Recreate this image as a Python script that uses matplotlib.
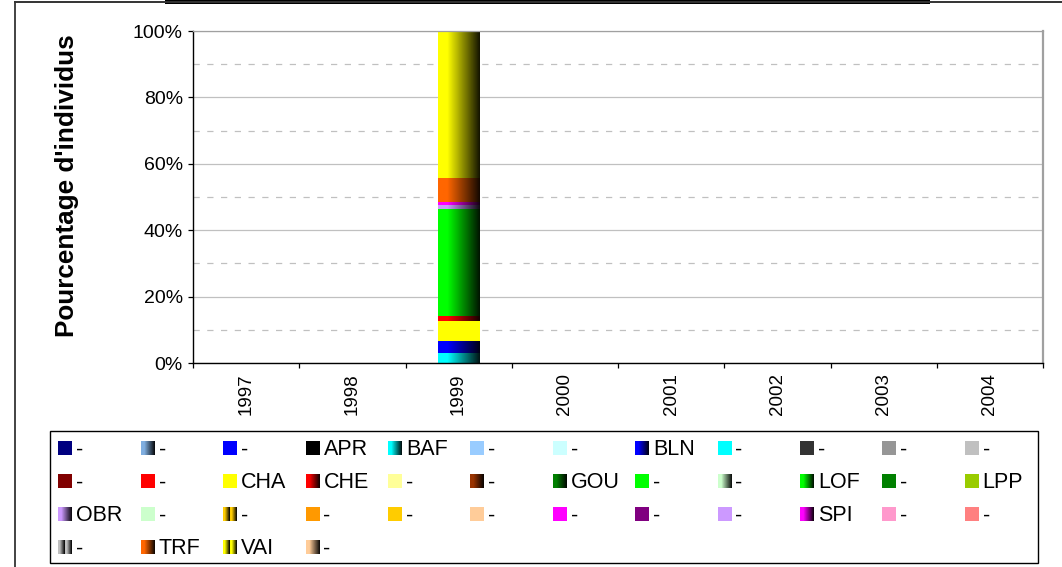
import numpy as np
import matplotlib
matplotlib.use('Agg')
import matplotlib.pyplot as plt
from matplotlib.colors import LinearSegmentedColormap, to_rgb
from matplotlib.patches import Rectangle
from matplotlib.ticker import PercentFormatter

plt.rcParams['font.family'] = ['Liberation Sans', 'DejaVu Sans']

W, H = 1062, 567

years = ['1997', '1998', '1999', '2000', '2001', '2002', '2003', '2004']

# series in Excel order (legend row by row, stack from bottom)
series_labels = ['-', '-', '-', 'APR', 'BAF', '-', '-', 'BLN', '-', '-', '-', '-',
                 '-', '-', 'CHA', 'CHE', '-', '-', 'GOU', '-', '-', 'LOF', '-', 'LPP',
                 'OBR', '-', '-', '-', '-', '-', '-', '-', '-', 'SPI', '-', '-',
                 '-', 'TRF', 'VAI', '-']
series_colors = ['#000080', '#7FAEE0', '#0000FF', '#000000', '#00FFFF', '#99CCFF', '#CCFFFF', '#0000FF', '#00FFFF', '#333333', '#969696', '#C0C0C0',
                 '#800000', '#FF0000', '#FFFF00', '#FF0000', '#FFFF99', '#993300', '#008000', '#00FF00', '#CCFFCC', '#00FF00', '#008000', '#99CC00',
                 '#CC99FF', '#CCFFCC', '#FFCC00', '#FF9900', '#FFCC00', '#FFCC99', '#FF00FF', '#800080', '#CC99FF', '#FF00FF', '#FF99CC', '#FF8080',
                 '#C0C0C0', '#FF6600', '#FFFF00', '#FFCC99']
series_fill = ['solid', 'grad', 'solid', 'solid', 'grad', 'solid', 'solid', 'grad', 'solid', 'solid', 'solid', 'solid',
               'solid', 'solid', 'solid', 'grad', 'solid', 'grad', 'grad', 'solid', 'grad', 'grad', 'solid', 'solid',
               'grad', 'solid', 'grad2', 'solid', 'solid', 'solid', 'solid', 'solid', 'solid', 'grad', 'solid', 'solid',
               'grad2', 'grad', 'grad2', 'grad']

# percentages (other years are empty)
pct_1999 = [0, 0, 0, 0, 3.0, 0, 0, 3.6, 0, 0, 0, 0,
            0, 0, 6.0, 1.5, 0, 0, 0, 0, 0, 32.3, 0, 0,
            1.2, 0, 0, 0, 0, 0, 0, 0, 0, 0.9, 0, 0,
            0, 7.3, 44.2, 0]

values = np.zeros((len(series_labels), len(years)))
values[:, years.index('1999')] = pct_1999
totals = values.sum(axis=0)
shares = np.divide(values, totals, out=np.zeros_like(values), where=totals > 0)


def ramp_cmap(color):
    c = np.array(to_rgb(color))
    return LinearSegmentedColormap.from_list('r', [(0, c), (0.22, c), (1, c * 0.08)])


fig = plt.figure(figsize=(W / 100, H / 100), dpi=100)

# overlay in pixel coordinates for frame and legend
ov = fig.add_axes([0, 0, 1, 1])
ov.set_xlim(0, W)
ov.set_ylim(H, 0)
ov.axis('off')
ov.patch.set_visible(False)

ov.plot([15, 15], [1.5, H], color='#222222', lw=1.2)
ov.plot([15, W], [1.5, 1.5], color='#333333', lw=1.4)
ov.add_patch(Rectangle((165, 0), 765, 3.5, color='black', lw=0))

# main plot
ax = fig.add_axes([193 / W, 1 - 363 / H, 850 / W, 332 / H])
x = np.arange(len(years))
bottoms = np.zeros(len(years))
for i in range(len(series_labels)):
    bars = ax.bar(x, shares[i], 0.395, bottom=bottoms, color=series_colors[i],
                  linewidth=0, zorder=2)
    if series_fill[i] != 'solid':
        for b in bars:
            if b.get_height() > 0:
                ax.imshow(np.linspace(0, 1, 64).reshape(1, -1), cmap=ramp_cmap(series_colors[i]),
                          extent=(b.get_x(), b.get_x() + b.get_width(), b.get_y(), b.get_y() + b.get_height()),
                          aspect='auto', interpolation='bilinear', zorder=2.1)
    bottoms += shares[i]

ax.set_xlim(-0.5, len(years) - 0.5)
ax.set_ylim(0, 1)
ax.set_xticks(x)
ax.set_xticklabels(years, rotation=90, fontsize=13.5)
ax.set_xticks(np.arange(-0.5, len(years), 1), minor=True)
ax.tick_params(axis='x', which='major', length=0, pad=7.5)
ax.tick_params(axis='x', which='minor', length=3.8, width=0.9, direction='out')

ax.set_yticks(np.arange(0, 1.01, 0.2))
ax.set_yticks(np.arange(0.1, 1, 0.2), minor=True)
ax.yaxis.set_major_formatter(PercentFormatter(1, decimals=0))
ax.tick_params(axis='y', which='major', length=3.8, width=0.9, pad=3.5, labelsize=14)
ax.tick_params(axis='y', which='minor', length=0)
ax.yaxis.grid(True, which='major', color='#C0C0C0', lw=0.9)
ax.yaxis.grid(True, which='minor', color='#C0C0C0', lw=0.9, linestyle=(0, (5, 6)))
ax.set_axisbelow(True)

for s in ['left', 'bottom']:
    ax.spines[s].set_color('black')
    ax.spines[s].set_linewidth(1.0)
ax.spines['top'].set_color('#A0A0A0')
ax.spines['top'].set_linewidth(0.9)
ax.spines['right'].set_color('#A0A0A0')
ax.spines['right'].set_linewidth(1.6)

ax.set_ylabel("Pourcentage d'individus", fontsize=18.8, fontweight='bold', va='center')
ax.yaxis.set_label_coords((67 - 193) / 850, (363 - 186) / 332)

# legend box, 12 equal columns like Excel
ov.add_patch(Rectangle((49.5, 431), 988.5, 132, fill=False, ec='black', lw=1.0))
ncol = 12
for i, lab in enumerate(series_labels):
    r, c = divmod(i, ncol)
    sx = 58.3 + 82.4 * c
    sy = 448 + 33 * r
    if series_fill[i] == 'solid':
        ov.add_patch(Rectangle((sx, sy - 7), 14, 14, color=series_colors[i], lw=0))
    else:
        ramp = np.linspace(0, 1, 14)
        if series_fill[i] == 'grad2':
            ramp = np.concatenate([np.linspace(0, 1, 7), np.linspace(0, 1, 7)])
        ov.imshow(ramp.reshape(1, -1), cmap=ramp_cmap(series_colors[i]),
                  extent=(sx, sx + 14, sy + 7, sy - 7), aspect='auto', interpolation='nearest')
    ov.text(sx + 18, sy + 7.4, lab, fontsize=15.5, ha='left', va='baseline')

ov.set_xlim(0, W)
ov.set_ylim(H, 0)

fig.savefig('out.png', dpi=100)
